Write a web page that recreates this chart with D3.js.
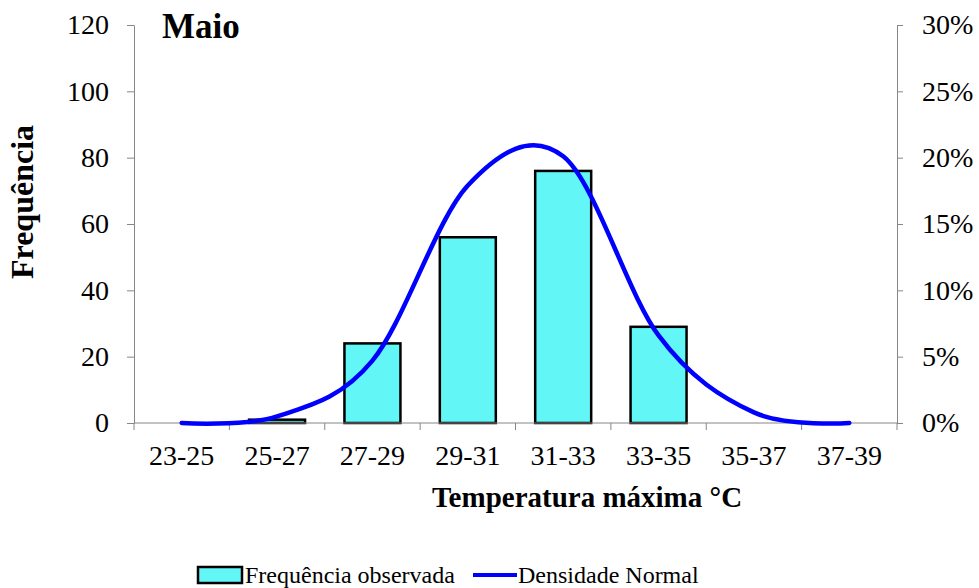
<!DOCTYPE html>
<html>
<head>
  <style>
    body { margin: 0; background: #fff; }
    text { font-family: "Liberation Serif", "Times New Roman", serif; }
  </style>
</head>
<body>
  <svg id="chart"></svg>
  <script src="https://d3js.org/d3.v7.min.js"></script>
  <script>
    // class intervals (°C)
    const classes = ["23-25", "25-27", "27-29", "29-31", "31-33", "33-35", "35-37", "37-39"];
    // observed frequency (days)
    const observed = [0, 1, 24, 56, 76, 29, 0, 0];
    // normal density, as a fraction
    const density = [0, 0.005, 0.047, 0.179, 0.201, 0.066, 0.008, 0];
    const leftTicks = [0, 20, 40, 60, 80, 100, 120];
    const rightTicks = [0, 0.05, 0.10, 0.15, 0.20, 0.25, 0.30];

    const width = 979, height = 588;
    const m = { left: 134, right: 82, top: 25, bottom: 165 };
    const grey = "#868686";

    const svg = d3.select("#chart").attr("width", width).attr("height", height);

    const x = d3.scaleBand().domain(classes).range([m.left, width - m.right]).paddingInner(0.413).paddingOuter(0.2065);
    const xb = d3.scaleBand().domain(classes).range([m.left, width - m.right]);
    const y = d3.scaleLinear().domain([0, 120]).range([height - m.bottom, m.top]);
    const y2 = d3.scaleLinear().domain([0, 0.30]).range([height - m.bottom, m.top]);

    // bars
    svg.append("g")
      .selectAll("rect")
      .data(observed)
      .join("rect")
      .attr("x", (d, i) => x(classes[i]))
      .attr("width", x.bandwidth())
      .attr("y", d => y(d))
      .attr("height", d => y(0) - y(d))
      .attr("fill", "#62f6f6")
      .attr("stroke", "#000")
      .attr("stroke-width", 2.5);

    // left axis
    const left = svg.append("g")
      .attr("transform", `translate(${m.left},0)`)
      .call(d3.axisLeft(y).tickValues(leftTicks).tickSize(7).tickPadding(18).tickSizeOuter(0));
    left.select(".domain").attr("stroke", grey);
    left.selectAll(".tick line").attr("stroke", grey);
    left.selectAll("text").attr("font-size", 28).attr("fill", "#000")
      .style("font-family", "Liberation Serif");

    // right axis
    const right = svg.append("g")
      .attr("transform", `translate(${width - m.right},0)`)
      .call(d3.axisRight(y2).tickValues(rightTicks).tickFormat(d3.format(".0%")).tickSize(6).tickPadding(19).tickSizeOuter(0));
    right.select(".domain").attr("stroke", grey);
    right.selectAll(".tick line").attr("stroke", grey);
    right.selectAll("text").attr("font-size", 28).attr("fill", "#000")
      .style("font-family", "Liberation Serif");

    // x axis, ticks on class boundaries
    const bottom = svg.append("g")
      .attr("transform", `translate(0,${y(0)})`)
      .call(d3.axisBottom(x).tickSize(0).tickPadding(22));
    bottom.select(".domain").remove();
    bottom.selectAll("text").attr("font-size", 28).attr("fill", "#000")
      .style("font-family", "Liberation Serif");
    svg.append("line")
      .attr("x1", m.left).attr("x2", width - m.right)
      .attr("y1", y(0)).attr("y2", y(0))
      .attr("stroke", grey);
    svg.append("g")
      .selectAll("line")
      .data(classes.concat(["end"]))
      .join("line")
      .attr("x1", (d, i) => i < classes.length ? xb(d) : width - m.right)
      .attr("x2", (d, i) => i < classes.length ? xb(d) : width - m.right)
      .attr("y1", y(0)).attr("y2", y(0) + 7)
      .attr("stroke", grey);

    // normal density line
    const line = d3.line()
      .x((d, i) => xb(classes[i]) + xb.bandwidth() / 2)
      .y(d => y2(d))
      .curve(d3.curveCatmullRom.alpha(0));
    svg.append("path")
      .datum(density)
      .attr("d", line)
      .attr("fill", "none")
      .attr("stroke", "#0000ff")
      .attr("stroke-width", 4.5)
      .attr("stroke-linecap", "round");

    // titles
    svg.append("text").attr("x", 162).attr("y", 38)
      .attr("font-size", 35).attr("font-weight", "bold").text("Maio");
    svg.append("text").attr("x", 587).attr("y", 507).attr("text-anchor", "middle")
      .attr("font-size", 29).attr("font-weight", "bold").text("Temperatura máxima °C");
    svg.append("text")
      .attr("transform", "translate(33,202) rotate(-90)")
      .attr("text-anchor", "middle")
      .attr("font-size", 32).attr("font-weight", "bold").text("Frequência");

    // legend
    const lg = svg.append("g");
    lg.append("rect").attr("x", 198).attr("y", 567).attr("width", 44).attr("height", 16)
      .attr("fill", "#62f6f6").attr("stroke", "#000").attr("stroke-width", 2.5);
    lg.append("text").attr("x", 245).attr("y", 583).attr("font-size", 24).text("Frequência observada");
    lg.append("line").attr("x1", 473).attr("x2", 517).attr("y1", 575).attr("y2", 575)
      .attr("stroke", "#0000ff").attr("stroke-width", 4);
    lg.append("text").attr("x", 518).attr("y", 583).attr("font-size", 24).text("Densidade Normal");
  </script>
</body>
</html>
